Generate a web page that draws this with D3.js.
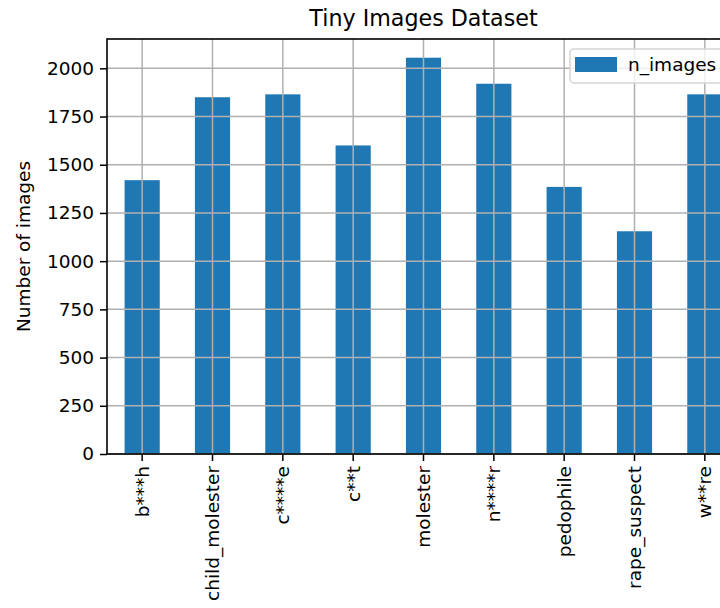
<!DOCTYPE html>
<html><head><meta charset="utf-8">
<script src="https://cdn.jsdelivr.net/npm/d3@7"></script>
<style>body{margin:0;background:#fff;} svg{display:block;font-family:"DejaVu Sans",sans-serif;}</style>
</head><body>
<svg id="c" width="720" height="608"></svg>
<script>
const categories = ["b***h","child_molester","c****e","c**t","molester","n****r","pedophile","rape_suspect","w**re"];
const nImages = [1420, 1850, 1865, 1600, 2055, 1920, 1385, 1155, 1865];
const yTicks = [0,250,500,750,1000,1250,1500,1750,2000];
const seriesName = "n_images";

const svg = d3.select("#c");
const L = 107, T = 39, R = 740, B = 454;
const FS = 18.5;
const x = d3.scaleBand().domain(categories).range([L, R]).paddingInner(0.5).paddingOuter(0.25);
const y = d3.scaleLinear().domain([0, 2152]).range([B, T]);

// bars
svg.append("g").selectAll("rect").data(categories).join("rect")
  .attr("x", d => x(d)).attr("width", x.bandwidth())
  .attr("y", (d,i) => y(nImages[i])).attr("height", (d,i) => B - y(nImages[i]))
  .attr("fill", "#1f77b4");

// grid (on top of bars)
const grid = svg.append("g").attr("stroke", "#b0b0b0").attr("stroke-width", 1.5);
yTicks.forEach(t => grid.append("line").attr("x1", L).attr("x2", R).attr("y1", y(t)).attr("y2", y(t)));
categories.forEach(c => { const cx = x(c) + x.bandwidth()/2;
  grid.append("line").attr("x1", cx).attr("x2", cx).attr("y1", T).attr("y2", B); });

// axes
const yAxis = svg.append("g").attr("transform", `translate(${L},0)`)
  .call(d3.axisLeft(y).tickValues(yTicks).tickFormat(d3.format("d")).tickSize(7).tickPadding(6));
const xAxis = svg.append("g").attr("transform", `translate(0,${B})`)
  .call(d3.axisBottom(x).tickSize(7).tickPadding(4));
[yAxis, xAxis].forEach(a => { a.select(".domain").remove();
  a.selectAll("text").attr("font-size", FS).attr("fill", "#000").attr("font-family", "DejaVu Sans");
  a.selectAll("line").attr("stroke", "#000").attr("stroke-width", 1.5); });
xAxis.selectAll("text").attr("transform", "rotate(-90)").attr("text-anchor", "end")
  .attr("x", -12).attr("y", 0).attr("dy", "0.35em");

// frame
svg.append("rect").attr("x", L).attr("y", T).attr("width", R - L).attr("height", B - T)
  .attr("fill", "none").attr("stroke", "#000").attr("stroke-width", 1.6);

// title & label
svg.append("text").attr("x", (L + R)/2).attr("y", 26).attr("text-anchor", "middle")
  .attr("font-size", 22.2).text("Tiny Images Dataset");
svg.append("text").attr("transform", `translate(30,${(T + B)/2}) rotate(-90)`)
  .attr("text-anchor", "middle").attr("font-size", FS).text("Number of images");

// legend
const lg = svg.append("g").attr("transform", "translate(570,49)");
lg.append("rect").attr("width", 180).attr("height", 34).attr("rx", 4)
  .attr("fill", "#fff").attr("fill-opacity", 0.8).attr("stroke", "#d5d5d5").attr("stroke-width", 1.5);
lg.append("rect").attr("x", 5).attr("y", 8).attr("width", 42).attr("height", 15).attr("fill", "#1f77b4");
lg.append("text").attr("x", 58).attr("y", 16).attr("dy", "0.35em").attr("font-size", FS).text(seriesName);
</script>
</body></html>
